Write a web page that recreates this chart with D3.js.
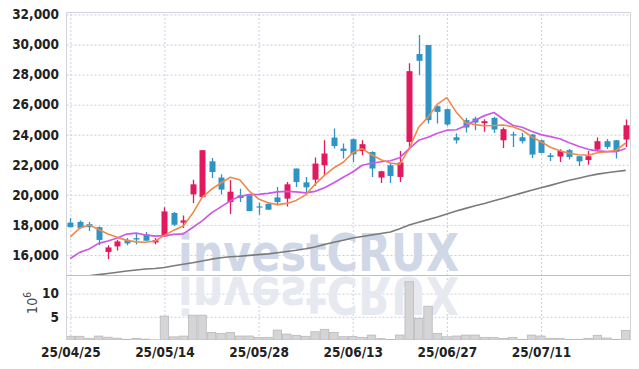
<!DOCTYPE html>
<html>
<head>
<meta charset="utf-8">
<script src="https://cdn.jsdelivr.net/npm/d3@7"></script>
<style>
  html, body { margin: 0; padding: 0; background: #fff; }
  svg { display: block; }
  .axis text {
    font-family: "Liberation Sans Narrow", "DejaVu Sans Condensed", sans-serif;
    font-weight: bold;
    font-size: 13.5px;
    fill: #222;
  }
  .grid line { stroke: #c9cde0; stroke-dasharray: 2,2; }
</style>
</head>
<body>
<div id="chart"></div>
<script>
// trading days (yy/mm/dd)
const dates = [
  "25/04/25","25/04/28","25/04/29","25/04/30","25/05/02","25/05/07","25/05/08","25/05/09","25/05/12","25/05/13",
  "25/05/14","25/05/15","25/05/16","25/05/19","25/05/20","25/05/21","25/05/22","25/05/23","25/05/26","25/05/27",
  "25/05/28","25/05/29","25/05/30","25/06/02","25/06/04","25/06/05","25/06/09","25/06/10","25/06/11","25/06/12",
  "25/06/13","25/06/16","25/06/17","25/06/18","25/06/19","25/06/20","25/06/23","25/06/24","25/06/25","25/06/26",
  "25/06/27","25/06/30","25/07/01","25/07/02","25/07/03","25/07/04","25/07/07","25/07/08","25/07/09","25/07/10",
  "25/07/11","25/07/14","25/07/15","25/07/16","25/07/17","25/07/18","25/07/21","25/07/22","25/07/23","25/07/24"
];

const opens = [
  18150,18200,18050,17850,16200,16570,17000,17120,17370,16830,
  17230,18790,18150,20030,19850,22230,21150,19520,19970,19970,
  19230,19390,19830,19750,21750,20830,21010,21970,23810,23080,
  23700,22920,22850,21150,21970,21190,23520,29370,29970,25900,
  25700,23830,24970,25080,24770,25120,23630,24030,23830,24010,
  23630,22630,22550,22970,22570,22320,23010,23570,23630,23680
];
const highs = [
  18450,18300,18200,17900,16650,17000,17120,17400,17520,17120,
  19180,18850,18630,21010,22970,22450,21370,20970,20410,20000,
  19480,19530,20520,20850,21750,21190,22480,23630,24410,23410,
  23750,23630,22900,21600,22120,22920,28750,30630,29970,25950,
  25750,24080,25120,25190,25030,25190,24480,24190,24120,24050,
  23650,22790,23030,23050,22600,22920,23810,23720,23650,25010
];
const lows = [
  17850,17750,17600,16650,15720,16300,16650,16700,16950,16720,
  17200,17920,17790,19450,19800,21120,20030,18720,19520,18900,
  18680,19000,19300,19230,20520,20190,20610,21300,23080,22410,
  22190,22630,21190,20790,20790,20850,23080,27970,24750,24750,
  24600,23410,24150,24300,24190,24120,23120,23190,23410,22450,
  22750,22250,22190,22350,21920,22010,22920,23050,22410,23190
];
const closes = [
  17850,17800,17850,17000,16500,16900,16770,17030,16950,16980,
  18900,18010,18300,20700,22970,21520,20350,20210,19790,18920,
  19170,19010,19520,20700,20850,20500,22080,22750,23250,22920,
  22700,23370,21750,21570,21250,22150,28230,28920,24970,25520,
  24680,23630,24480,24810,24900,24350,24370,23950,23570,22680,
  22790,22520,22920,22520,22230,22570,23570,23190,22900,24630
];

// moving averages as drawn (short, mid, long)
const ma5 = [
  17200,17790,18000,17700,17400,17170,16970,16870,16850,16930,
  17300,17650,17920,18770,19830,20370,20790,21170,21010,20250,
  19730,19470,19350,19430,19630,20000,20700,21300,21800,22170,
  22800,23080,22670,22330,22120,22030,23080,24500,25170,26030,
  26470,25500,24800,24670,24600,24610,24650,24530,24300,23870,
  23530,23170,22930,22770,22670,22630,22800,22870,22970,23450
];
const ma20 = [
  15770,16170,16400,16770,16930,17130,17390,17450,17330,17250,
  17280,17370,17400,17830,18270,18800,19200,19600,19900,20010,
  20030,20100,20200,20230,20200,20130,20230,20470,20800,21170,
  21520,21970,22100,22200,22270,22470,23080,23630,23830,24100,
  24300,24330,24600,24970,25270,25480,25030,24630,24500,24230,
  24010,23870,23730,23470,23230,23030,22930,22880,22870,23080
];
const ma60 = [
  14500,14570,14610,14690,14770,14850,14930,15000,15070,15100,
  15170,15280,15380,15480,15600,15720,15810,15880,15910,15970,
  16020,16070,16150,16230,16310,16410,16530,16700,16850,16980,
  17130,17230,17330,17430,17530,17750,18000,18170,18350,18530,
  18730,18930,19100,19270,19430,19610,19780,19950,20130,20300,
  20470,20630,20800,20970,21110,21250,21380,21470,21550,21630
];

// volume, millions of shares
const volumes = [
  0.8,0.8,0.36,0.85,0.6,0.38,0.15,0.36,0.18,0.05,
  5.15,0.68,0.85,5.35,5.35,1.64,1.43,1.64,0.86,0.86,
  0.55,0.57,2.14,1.28,1.0,0.8,1.78,2.3,1.64,0.71,
  0.75,0.57,1.07,0.3,0.1,1.07,12.55,4.64,7.28,1.43,
  0.7,0.86,1.07,1.07,0.57,0.57,0.36,0.57,0.14,1.07,
  0.86,0.36,0.36,0.14,0.14,0.36,1.0,0.43,0.14,2.07
];

const priceTicks = [16000, 18000, 20000, 22000, 24000, 26000, 28000, 30000, 32000];
const volumeTicks = [5, 10];
const labelDates = ["25/04/25", "25/05/14", "25/05/28", "25/06/13", "25/06/27", "25/07/11"];

const attrs = {
  width: 639,
  height: 369,
  left: 66.5,
  right: 630.5,
  top: 12.5,
  split: 275.5,
  bottom: 340,
  upColor: "#e2195f",
  downColor: "#2e94c6",
  ma5Color: "#ef8a4c",
  ma20Color: "#cc58e6",
  ma60Color: "#7a7a7a",
};

const data = dates.map((d, i) => ({
  date: d,
  open: opens[i], high: highs[i], low: lows[i], close: closes[i],
  ma5: ma5[i], ma20: ma20[i], ma60: ma60[i],
  volume: volumes[i],
}));

const svg = d3.select("#chart").append("svg")
  .attr("width", attrs.width)
  .attr("height", attrs.height);

const x = d3.scalePoint(dates, [70.3, 625.7]);
const y = d3.scaleLinear([14633, 32133], [attrs.split, attrs.top]);
const yVol = d3.scaleLinear([0, 13.9], [attrs.bottom, attrs.split]);

const defs = svg.append("defs");
defs.append("clipPath").attr("id", "clip-price")
  .append("rect")
  .attr("x", attrs.left).attr("y", attrs.top)
  .attr("width", attrs.right - attrs.left).attr("height", attrs.split - attrs.top);
defs.append("clipPath").attr("id", "clip-vol")
  .append("rect")
  .attr("x", attrs.left).attr("y", attrs.split)
  .attr("width", attrs.right - attrs.left).attr("height", attrs.bottom - attrs.split);

// watermark text, drawn twice below (plain + mirrored)
defs.append("text")
  .attr("id", "wm")
  .attr("x", 318.5).attr("y", 270.8)
  .attr("text-anchor", "middle")
  .attr("textLength", 281).attr("lengthAdjust", "spacingAndGlyphs")
  .style("font-family", "'DejaVu Sans', sans-serif")
  .style("font-weight", "bold").style("font-size", "51px")
  .text("investCRUX");

// grids
svg.append("g").attr("class", "grid")
  .attr("transform", `translate(${attrs.left},0)`)
  .call(d3.axisLeft(y).tickValues(priceTicks).tickSize(-(attrs.right - attrs.left)).tickFormat(""))
  .call(g => g.select(".domain").remove());

svg.append("g").attr("class", "grid")
  .attr("transform", `translate(${attrs.left},0)`)
  .call(d3.axisLeft(yVol).tickValues(volumeTicks).tickSize(-(attrs.right - attrs.left)).tickFormat(""))
  .call(g => g.select(".domain").remove());

svg.append("g").attr("class", "grid")
  .attr("transform", `translate(0,${attrs.bottom})`)
  .call(d3.axisBottom(x).tickValues(labelDates).tickSize(-(attrs.bottom - attrs.top)).tickFormat(""))
  .call(g => g.select(".domain").remove());

// watermark + reflection
const mark = svg.append("g").attr("pointer-events", "none");
mark.append("use").attr("href", "#wm").attr("fill", "#d0d7e7");
mark.append("use").attr("href", "#wm").attr("fill", "#e7e9f0")
  .attr("transform", "translate(0,548) scale(1,-1)");

// volume bars
const step = x.step();
svg.append("g").attr("clip-path", "url(#clip-vol)")
  .selectAll("rect").data(data).join("rect")
  .attr("x", d => x(d.date) - step / 2 + 0.5)
  .attr("y", d => yVol(d.volume))
  .attr("width", step - 1)
  .attr("height", d => yVol(0) - yVol(d.volume))
  .attr("fill", "#d5d5d7")
  .attr("stroke", "#b9b9bc")
  .attr("stroke-width", 0.8);

// candles
const candles = svg.append("g").attr("clip-path", "url(#clip-price)")
  .selectAll("g").data(data).join("g")
  .attr("transform", d => `translate(${Math.round(x(d.date)) + 0.5},0)`);

candles.append("line")
  .attr("y1", d => y(d.high)).attr("y2", d => y(d.low))
  .attr("stroke", d => d.close >= d.open ? attrs.upColor : attrs.downColor)
  .attr("stroke-width", 1.3);

candles.append("rect")
  .attr("x", -3)
  .attr("width", 6)
  .attr("y", d => y(Math.max(d.open, d.close)))
  .attr("height", d => Math.max(1.2, Math.abs(y(d.open) - y(d.close))))
  .attr("fill", d => d.close >= d.open ? attrs.upColor : attrs.downColor);

// moving averages
const lines = svg.append("g").attr("clip-path", "url(#clip-price)");
[["ma60", attrs.ma60Color, 1.6], ["ma20", attrs.ma20Color, 1.7], ["ma5", attrs.ma5Color, 1.6]]
  .forEach(([key, color, w]) => {
    lines.append("path")
      .attr("fill", "none")
      .attr("stroke", color)
      .attr("stroke-width", w)
      .attr("stroke-linejoin", "round")
      .attr("d", d3.line().x(d => x(d.date)).y(d => y(d[key]))(data));
  });

// frame
const frame = svg.append("g").attr("fill", "none");
frame.append("path")
  .attr("d", `M${attrs.left},${attrs.bottom}V${attrs.top}H${attrs.right}V${attrs.bottom}`)
  .attr("stroke", "#d3d4da");
frame.append("line")
  .attr("x1", attrs.left).attr("x2", attrs.right)
  .attr("y1", attrs.split).attr("y2", attrs.split)
  .attr("stroke", "#bdbdc2");

// axes
svg.append("g").attr("class", "axis")
  .attr("transform", `translate(${attrs.left},0)`)
  .call(d3.axisLeft(y).tickValues(priceTicks).tickFormat(d3.format(",")).tickSize(0).tickPadding(7.5))
  .call(g => g.select(".domain").remove());

svg.append("g").attr("class", "axis")
  .attr("transform", `translate(${attrs.left},0)`)
  .call(d3.axisLeft(yVol).tickValues(volumeTicks).tickSize(0).tickPadding(7.5))
  .call(g => g.select(".domain").remove());

svg.append("g").attr("class", "axis")
  .attr("transform", `translate(0,${attrs.bottom})`)
  .call(d3.axisBottom(x).tickValues(labelDates).tickSize(0).tickPadding(7))
  .call(g => g.select(".domain").remove());

const unit = svg.append("text")
  .attr("transform", "translate(37,303) rotate(-90)")
  .attr("text-anchor", "middle")
  .style("font-family", "'Liberation Sans Narrow', 'DejaVu Sans Condensed', sans-serif")
  .style("font-size", "14px")
  .attr("fill", "#444");
unit.append("tspan").text("10");
unit.append("tspan").attr("dy", -6).style("font-size", "10px").text("6");
</script>
</body>
</html>
